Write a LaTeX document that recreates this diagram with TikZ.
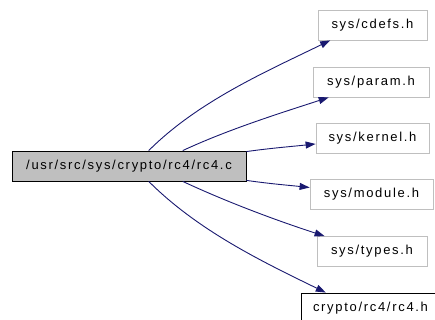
\documentclass[tikz,border=0pt]{standalone}
\usepackage{fontspec}
\setmainfont{Liberation Sans}[LetterSpace=13]
\usetikzlibrary{arrows.meta}
\definecolor{edgeblue}{HTML}{191970}
\definecolor{boxgray}{HTML}{BFBFBF}
\begin{document}
\begin{tikzpicture}[x=1pt,y=1pt,
    file/.style={draw=boxgray,fill=white,line width=0.8pt,minimum height=30pt,
      inner sep=0pt,font=\fontsize{13}{15}\selectfont},
    dep/.style={draw=edgeblue,line width=0.9pt,
      -{Triangle[length=10pt,width=7pt]}}]
  \useasboundingbox (0,0) rectangle (435,320);
  \draw
    (129,154) node[file,draw=black,fill=boxgray,minimum width=234pt] (rc4c){/usr/src/sys/crypto/rc4/rc4.c}
    (372.5,295) node[file,minimum width=109pt] (cdefs){sys/cdefs.h}
    (371,238) node[file,minimum width=116pt] (param){sys/param.h}
    (372.5,182) node[file,minimum width=113pt] (kernel){sys/kernel.h}
    (371.5,126) node[file,minimum width=123pt] (module){sys/module.h}
    (372,68.5) node[file,minimum width=110pt] (types){sys/types.h}
    (370.5,12) node[file,draw=black,minimum width=139pt] (rc4h){crypto/rc4/rc4.h};
  \begin{scope}[dep]
    \draw (rc4c.38) .. controls +(45:70) and +(206:70) .. (cdefs.200);
    \draw (rc4c.16) .. controls +(25:50) and +(198:50) .. (param.200);
    \draw (rc4c.7) .. controls +(8:25) and +(186:25) .. (kernel.186);
    \draw (rc4c.-7) .. controls +(-8:25) and +(174:25) .. (module.174);
    \draw (rc4c.-16) .. controls +(-25:50) and +(162:50) .. (types.162);
    \draw (rc4c.-38) .. controls +(-45:70) and +(154:70) .. (rc4h.161);
  \end{scope}
\end{tikzpicture}
\end{document}
